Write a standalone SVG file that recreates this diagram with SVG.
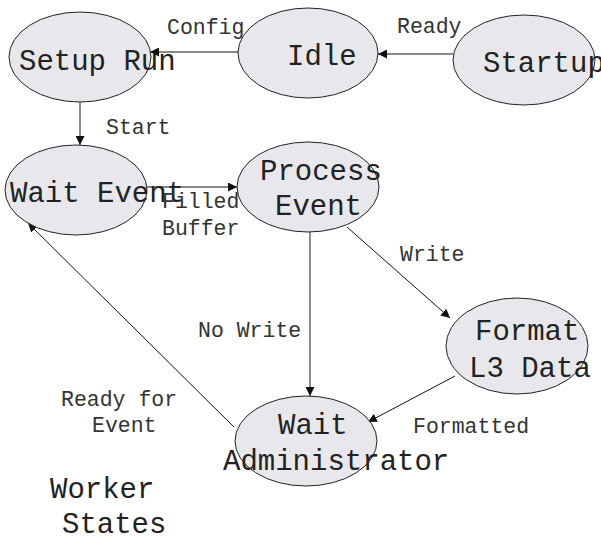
<svg xmlns="http://www.w3.org/2000/svg" width="601" height="538" viewBox="0 0 601 538">
  <defs>
    <marker id="arrow" viewBox="0 0 10 10" refX="10" refY="5" markerWidth="9" markerHeight="9" markerUnits="userSpaceOnUse" orient="auto">
      <path d="M0,0 L10,5 L0,10 z" fill="#111"/>
    </marker>
    <style>
      .state { fill: #e8e8ec; stroke: #222; stroke-width: 1; }
      .name { font-family: "Liberation Mono", "Courier New", monospace; font-size: 29px; fill: #222; }
      .label { font-family: "Liberation Mono", "Courier New", monospace; font-size: 21.5px; fill: #333; }
      .edge { stroke: #111; stroke-width: 1; fill: none; marker-end: url(#arrow); }
      .edge.grey { stroke: #666; stroke-width: 1.5; }
    </style>
  </defs>
  <rect width="601" height="538" fill="#fff"/>

  <!-- transitions -->
  <g id="connectors">
    <line class="edge" x1="238" y1="52" x2="150" y2="52"/>
    <line class="edge" x1="453" y1="54" x2="378" y2="54"/>
    <line class="edge grey" x1="80" y1="102" x2="80" y2="145"/>
    <line class="edge" x1="147" y1="187" x2="237" y2="187"/>
    <line class="edge grey" x1="310" y1="232" x2="310" y2="396"/>
    <line class="edge" x1="347" y1="227" x2="450" y2="318"/>
    <line class="edge" x1="455" y1="376" x2="368" y2="422"/>
    <line class="edge" x1="234" y1="427" x2="28" y2="223"/>
  </g>

  <g id="setup-run">
    <ellipse class="state" cx="80" cy="57" rx="71" ry="45"/>
    <text class="name" x="19" y="70">Setup Run</text>
  </g>
  <g id="idle">
    <ellipse class="state" cx="308" cy="53" rx="70" ry="45"/>
    <text class="name" x="287" y="65">Idle</text>
  </g>
  <g id="startup">
    <ellipse class="state" cx="524" cy="60" rx="71" ry="45"/>
    <text class="name" x="483" y="72">Startup</text>
  </g>
  <g id="wait-event">
    <ellipse class="state" cx="76" cy="190" rx="71" ry="45"/>
    <text class="name" x="10" y="202">Wait Event</text>
  </g>
  <g id="process-event">
    <ellipse class="state" cx="308" cy="187" rx="71" ry="45"/>
    <text class="name" x="260" y="180">Process</text>
    <text class="name" x="275" y="215">Event</text>
  </g>
  <g id="format-l3-data">
    <ellipse class="state" cx="517" cy="346" rx="71" ry="48"/>
    <text class="name" x="475" y="340">Format</text>
    <text class="name" x="469" y="377">L3 Data</text>
  </g>
  <g id="wait-administrator">
    <ellipse class="state" cx="306" cy="441" rx="71" ry="45"/>
    <text class="name" x="278" y="434">Wait</text>
    <text class="name" x="223" y="470">Administrator</text>
  </g>

  <!-- transition labels -->
  <g id="labels">
    <text class="label" x="167" y="34">Config</text>
    <text class="label" x="397" y="33">Ready</text>
    <text class="label" x="106" y="134">Start</text>
    <text class="label" x="162" y="208">Filled</text>
    <text class="label" x="162" y="235">Buffer</text>
    <text class="label" x="400" y="261">Write</text>
    <text class="label" x="198" y="337">No Write</text>
    <text class="label" x="413" y="433">Formatted</text>
    <text class="label" x="61" y="406">Ready for</text>
    <text class="label" x="92" y="432">Event</text>
  </g>

  <g id="title">
    <text class="name" x="50" y="498">Worker</text>
    <text class="name" x="62" y="533">States</text>
  </g>
</svg>
